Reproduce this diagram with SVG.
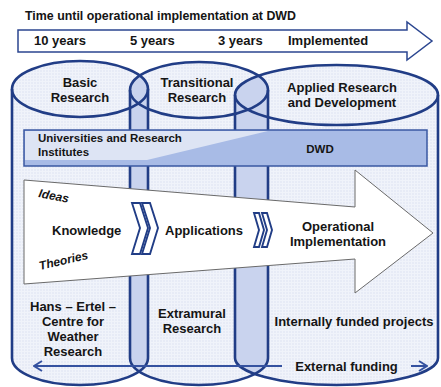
<svg xmlns="http://www.w3.org/2000/svg" width="441" height="387" viewBox="0 0 441 387">
<defs>
<style>
.t{font-family:"Liberation Sans",Arial,sans-serif;font-weight:bold;fill:#151515}
.s12{font-size:13px}
.s11{font-size:11.5px}
.si{font-size:12px}
.m{text-anchor:middle}
.it{font-style:italic}
.cs{fill:none;stroke:#213d86;stroke-width:2.6}
.chev{fill:#fff;stroke:#213d86;stroke-width:1.9;stroke-linejoin:miter}
.fund{fill:none;stroke:#3552a0;stroke-width:2}
</style>
<pattern id="grid" width="3" height="3" patternUnits="userSpaceOnUse">
<rect width="3" height="3" fill="#e7ebf6"/>
<path d="M0,0.5H3M0.5,0V3" stroke="#f0f3fa" stroke-width="1"/>
</pattern>
<path id="c1" d="M12,89 A68,28 0 0 1 148,89 L148,358 A68,27 0 0 1 12,358 Z"/>
<path id="c2" d="M130,90 A69,28 0 0 1 268,90 L268,358 A69,27 0 0 1 130,358 Z"/>
<path id="c3" d="M235,95 A101.5,30 0 0 1 438,95 L438,358 A101.5,27 0 0 1 235,358 Z"/>
<clipPath id="k1"><use href="#c1"/></clipPath>
<clipPath id="k2"><use href="#c2"/></clipPath>
<marker id="ah" viewBox="0 0 10 12" refX="9" refY="6" markerWidth="10" markerHeight="12" markerUnits="userSpaceOnUse" orient="auto-start-reverse">
<path d="M1,1 L9,6 L1,11" fill="none" stroke="#3552a0" stroke-width="2"/>
</marker>
</defs>
<rect width="441" height="387" fill="#fff"/>

<g id="cylinders-fill">
<use href="#c1" fill="url(#grid)"/>
<use href="#c2" fill="url(#grid)"/>
<use href="#c3" fill="url(#grid)"/>
<use href="#c2" fill="#c9d3ee" clip-path="url(#k1)"/>
<use href="#c3" fill="#c9d3ee" clip-path="url(#k2)"/>
</g>

<g id="basic-research">
<ellipse class="cs" cx="80" cy="89" rx="68" ry="28"/>
<path class="cs" d="M12,89 V358 A68,27 0 0 0 148,358 V89"/>
<text class="t s12 m" x="80" y="87">Basic</text>
<text class="t s12 m" x="80" y="102">Research</text>
</g>
<g id="transitional-research">
<ellipse class="cs" cx="199" cy="90" rx="69" ry="28"/>
<path class="cs" d="M130,90 V358 A69,27 0 0 0 268,358 V90"/>
<text class="t s12 m" x="197" y="87">Transitional</text>
<text class="t s12 m" x="197" y="102">Research</text>
</g>
<g id="applied-research">
<ellipse class="cs" cx="336.5" cy="95" rx="101.5" ry="30"/>
<path class="cs" d="M235,95 V358 A101.5,27 0 0 0 438,358 V95"/>
<text class="t s12 m" x="342" y="92">Applied Research</text>
<text class="t s12 m" x="342" y="107">and Development</text>
</g>

<g id="band">
<rect x="24" y="130" width="403" height="36" fill="#a8bbe6" stroke="#3a58a2" stroke-width="1.5"/>
<polygon points="25,131 268,131 147,160 25,160" fill="#dde4f4"/>
<text class="t s11" x="38" y="142">Universities and Research</text>
<text class="t s11" x="38" y="156">Institutes</text>
<text class="t s11 m" x="320" y="153">DWD</text>
</g>

<g id="main-arrow">
<polygon points="24,180 355,207 355,170 433,233 355,293 355,259 24,284" fill="#fff" stroke="#6a6a6a" stroke-width="1"/>
<text class="t si it" x="38" y="197" transform="rotate(11 38 197)">Ideas</text>
<text class="t s12" x="52" y="235">Knowledge</text>
<text class="t si it" x="40" y="270" transform="rotate(-13 40 270)">Theories</text>
<polygon class="chev" points="132,203 140,203 148,228 140,254 132,254 140,228"/>
<polygon class="chev" points="142,203 150,203 158,228 150,254 142,254 150,228"/>
<text class="t s12" x="165" y="235">Applications</text>
<polygon class="chev" points="254,213 259,213 264,230 259,247 254,247 259,230"/>
<polygon class="chev" points="262,213 267,213 272,230 267,247 262,247 267,230"/>
<text class="t s12 m" x="338" y="231">Operational</text>
<text class="t s12 m" x="338" y="246">Implementation</text>
</g>

<g id="bottom-labels">
<text class="t s12 m" x="73" y="311">Hans – Ertel –</text>
<text class="t s12 m" x="73" y="326">Centre for</text>
<text class="t s12 m" x="73" y="341">Weather</text>
<text class="t s12 m" x="73" y="356">Research</text>
<text class="t s12 m" x="192" y="318">Extramural</text>
<text class="t s12 m" x="192" y="333">Research</text>
<text class="t s12 m" x="354" y="326">Internally funded projects</text>
<text class="t s12 m" x="346.5" y="371">External funding</text>
</g>

<g id="connectors">
<path class="fund" d="M282,366 H34" marker-end="url(#ah)"/>
<path class="fund" d="M411,366 H427" marker-end="url(#ah)"/>
<polygon id="time-arrow" points="18,30 407,30 407,22 432,41 407,60 407,52 18,52" fill="#fff" stroke="#2b4690" stroke-width="1.5"/>
</g>

<g id="time-labels">
<text class="t" style="font-size:12.4px" x="25" y="20">Time until operational implementation at DWD</text>
<text class="t s12" x="34" y="45">10 years</text>
<text class="t s12" x="130" y="45">5 years</text>
<text class="t s12" x="218" y="45">3 years</text>
<text class="t s12" x="288" y="45">Implemented</text>
</g>
</svg>
